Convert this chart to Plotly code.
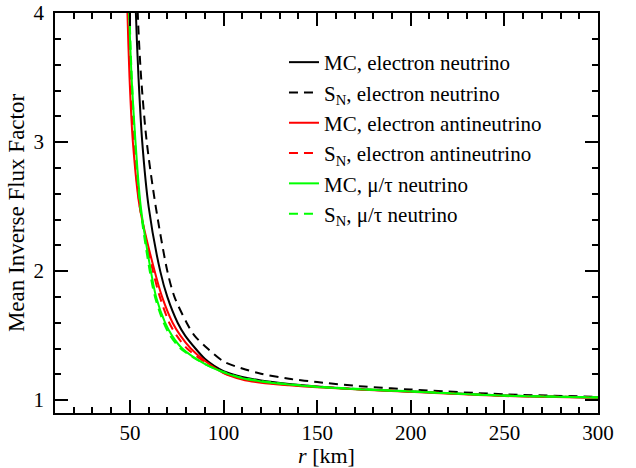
import plotly.graph_objects as go

# Radius r (km) and mean inverse flux factor
r_mc_e = [52.4, 53.2, 54.6, 56.6, 60.0, 66.2, 70.0, 75.5, 79.5, 85.0, 90.0, 95.0, 100.0, 110.0, 120.0, 135.0, 150.0, 175.0, 200.0, 250.0, 300.0]
v_mc_e = [4.6, 4.0, 3.5, 3.0, 2.5, 2.0, 1.8, 1.6, 1.5, 1.4, 1.32, 1.265, 1.225, 1.18, 1.152, 1.125, 1.105, 1.082, 1.066, 1.036, 1.02]

r_sn_e = [53.4, 54.2, 56.0, 59.0, 63.8, 70.0, 73.8, 80.3, 84.5, 91.5, 100.0, 110.0, 120.0, 135.0, 150.0, 175.0, 200.0, 250.0, 300.0]
v_sn_e = [4.6, 4.0, 3.5, 3.0, 2.5, 2.0, 1.8, 1.6, 1.5, 1.4, 1.30, 1.245, 1.205, 1.165, 1.14, 1.105, 1.082, 1.045, 1.026]

r_mc_a = [47.9, 48.7, 49.8, 51.6, 55.2, 63.2, 67.2, 72.8, 77.0, 82.5, 90.0, 100.0, 110.0, 120.0, 135.0, 150.0, 175.0, 200.0, 250.0, 300.0]
v_mc_a = [4.6, 4.0, 3.5, 3.0, 2.5, 2.0, 1.8, 1.6, 1.5, 1.4, 1.305, 1.21, 1.16, 1.135, 1.115, 1.10, 1.08, 1.064, 1.032, 1.018]

r_sn_a = [48.3, 49.1, 50.3, 52.0, 55.3, 62.3, 66.0, 71.0, 75.0, 80.5, 90.0, 100.0, 110.0, 120.0, 135.0, 150.0, 175.0, 200.0, 250.0, 300.0]
v_sn_a = [4.6, 4.0, 3.5, 3.0, 2.5, 2.0, 1.8, 1.6, 1.5, 1.4, 1.295, 1.212, 1.165, 1.14, 1.118, 1.103, 1.083, 1.067, 1.035, 1.022]

r_mc_x = [48.8, 49.6, 50.9, 53.0, 55.8, 61.2, 64.0, 68.8, 72.5, 78.0, 90.0, 100.0, 110.0, 120.0, 135.0, 150.0, 175.0, 200.0, 250.0, 300.0]
v_mc_x = [4.6, 4.0, 3.5, 3.0, 2.5, 2.0, 1.8, 1.6, 1.5, 1.4, 1.28, 1.215, 1.17, 1.145, 1.12, 1.102, 1.082, 1.066, 1.034, 1.02]

r_sn_x = [49.0, 49.8, 51.0, 52.8, 55.5, 60.6, 63.4, 68.0, 71.5, 77.0, 90.0, 100.0, 110.0, 120.0, 135.0, 150.0, 175.0, 200.0, 250.0, 300.0]
v_sn_x = [4.6, 4.0, 3.5, 3.0, 2.5, 2.0, 1.8, 1.6, 1.5, 1.4, 1.28, 1.218, 1.173, 1.148, 1.123, 1.105, 1.085, 1.068, 1.036, 1.022]

names = [
    "MC, electron neutrino",
    "S<sub>N</sub>, electron neutrino",
    "MC, electron antineutrino",
    "S<sub>N</sub>, electron antineutrino",
    "MC, \u03bc/\u03c4 neutrino",
    "S<sub>N</sub>, \u03bc/\u03c4 neutrino",
]
series = [(r_mc_e, v_mc_e), (r_sn_e, v_sn_e), (r_mc_a, v_mc_a),
          (r_sn_a, v_sn_a), (r_mc_x, v_mc_x), (r_sn_x, v_sn_x)]
colors = ["#000000", "#000000", "#ff0000", "#ff0000", "#00ff00", "#00ff00"]
dashes = ["solid", "9px,6px", "solid", "9px,6px", "solid", "9px,6px"]

fig = go.Figure()
for (x, y), n, c, d in zip(series, names, colors, dashes):
    fig.add_trace(go.Scatter(x=x, y=y, mode="lines", name=n,
                             line=dict(color=c, width=2, dash=d, shape="spline", smoothing=0.8)))

font = "Liberation Serif"
axis_common = dict(showgrid=False, zeroline=False, showline=True, linecolor="black",
                   linewidth=1.5, mirror="ticks", ticks="inside", tickcolor="black",
                   tickwidth=1.5, ticklen=13, automargin=False, ticklabeloverflow="allow",
                   tickfont=dict(family=font, size=21, color="black"))

fig.update_xaxes(range=[10, 300], tick0=0, dtick=50, ticklabelstandoff=0,
                 minor=dict(dtick=10, ticks="inside", ticklen=6, tickcolor="black", tickwidth=1.5),
                 title=dict(text="<i>r</i> [km]", font=dict(family=font, size=22, color="black"), standoff=9),
                 **axis_common)
fig.update_yaxes(range=[0.9, 4.001], tick0=0, dtick=1, ticklabelstandoff=5,
                 minor=dict(dtick=0.2, ticks="inside", ticklen=6, tickcolor="black", tickwidth=1.5),
                 title=dict(text="Mean Inverse Flux Factor", font=dict(family=font, size=23, color="black"), standoff=2),
                 **axis_common)

fig.update_layout(
    width=636, height=468,
    margin=dict(l=55, r=38, t=13, b=55),
    paper_bgcolor="white", plot_bgcolor="white",
    font=dict(family=font, size=21, color="black"),
    legend=dict(x=0.4217, y=0.9275, xanchor="left", yanchor="top",
                bgcolor="rgba(0,0,0,0)", borderwidth=0,
                font=dict(family=font, size=21, color="black"),
                tracegroupgap=0, itemwidth=30),
    showlegend=True,
)

# remove the default page margin so the figure sits at the window origin
fig.write_html("out.html", config={"displayModeBar": False},
               post_script="document.body.style.margin='0';")
